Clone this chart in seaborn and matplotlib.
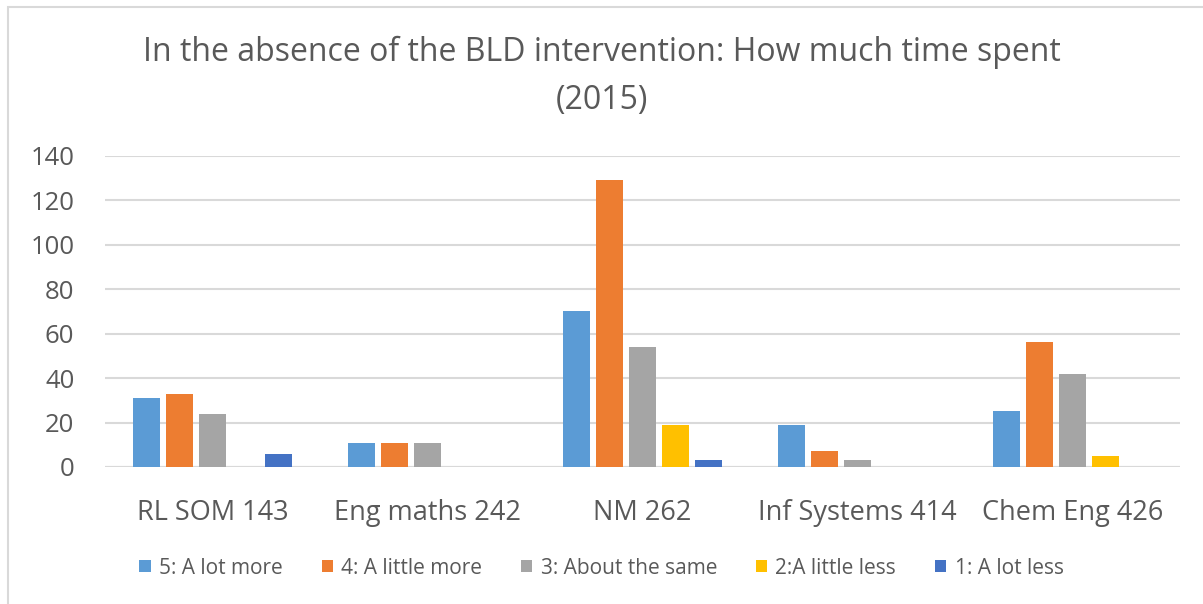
import matplotlib
matplotlib.use("Agg")
import matplotlib.pyplot as plt
import seaborn as sns
import pandas as pd
from matplotlib.patches import Rectangle

categories = ["RL SOM 143", "Eng maths 242", "NM 262", "Inf Systems 414", "Chem Eng 426"]
series_names = ["5: A lot more", "4: A little more", "3: About the same", "2:A little less", "1: A lot less"]
s5 = [31, 11, 70, 19, 25]
s4 = [33, 11, 129, 7, 56]
s3 = [24, 11, 54, 3, 42]
s2 = [0, 0, 19, 0, 5]
s1 = [6, 0, 3, 0, 0]
colors = ["#5B9BD5", "#ED7D31", "#A5A5A5", "#FFC000", "#4472C4"]
yticks = [0, 20, 40, 60, 80, 100, 120, 140]

rows = []
for name, vals in zip(series_names, [s5, s4, s3, s2, s1]):
    for c, v in zip(categories, vals):
        rows.append({"category": c, "series": name, "value": v})
df = pd.DataFrame(rows)

sns.set_theme(style="white")
plt.rcParams['font.family'] = ['Open Sans', 'DejaVu Sans']
text_color = "#595959"

fig = plt.figure(figsize=(12.03, 6.04), dpi=100)
ax = fig.add_axes([105/1203, 1-467/604, (1180-105)/1203, (467-155.7)/604])

sns.barplot(data=df, x="category", y="value", hue="series", order=categories,
            hue_order=series_names, palette=colors, width=0.77, gap=0.2,
            saturation=1, ax=ax, legend=True, linewidth=0, errorbar=None)

ax.set_ylim(0, 140)
ax.set_yticks(yticks)
ax.yaxis.grid(True, color="#D9D9D9", linewidth=1.5)
ax.set_axisbelow(True)
for s in ax.spines.values():
    s.set_visible(False)
ax.set_xlabel("")
ax.set_ylabel("")
ax.tick_params(axis="both", length=0, colors=text_color)
ax.tick_params(axis="x", labelsize=19.5, pad=23)
ax.tick_params(axis="y", labelsize=18.5, pad=22)
ax.axhline(0, color="#D9D9D9", linewidth=1.5, zorder=0.5)

handles, labels = ax.get_legend_handles_labels()
ax.get_legend().remove()
fig.legend(handles, labels, loc="center", bbox_to_anchor=(0.5, 1-568/604), ncol=5,
           frameon=False, fontsize=15, handlelength=0.55, handleheight=0.55,
           handletextpad=0.4, columnspacing=1.85, labelcolor=text_color)

fig.text(0.5, 1-52/604, "In the absence of the BLD intervention: How much time spent",
         ha="center", va="center", fontsize=23, color=text_color)
fig.text(0.5, 1-101/604, "(2015)", ha="center", va="center", fontsize=23, color=text_color)

fig.patches.append(Rectangle((8/1203, -0.1), 2, 1.1-7/604, transform=fig.transFigure,
                             fill=False, edgecolor="#D9D9D9", linewidth=1.5))

fig.savefig("out.png", dpi=100)
